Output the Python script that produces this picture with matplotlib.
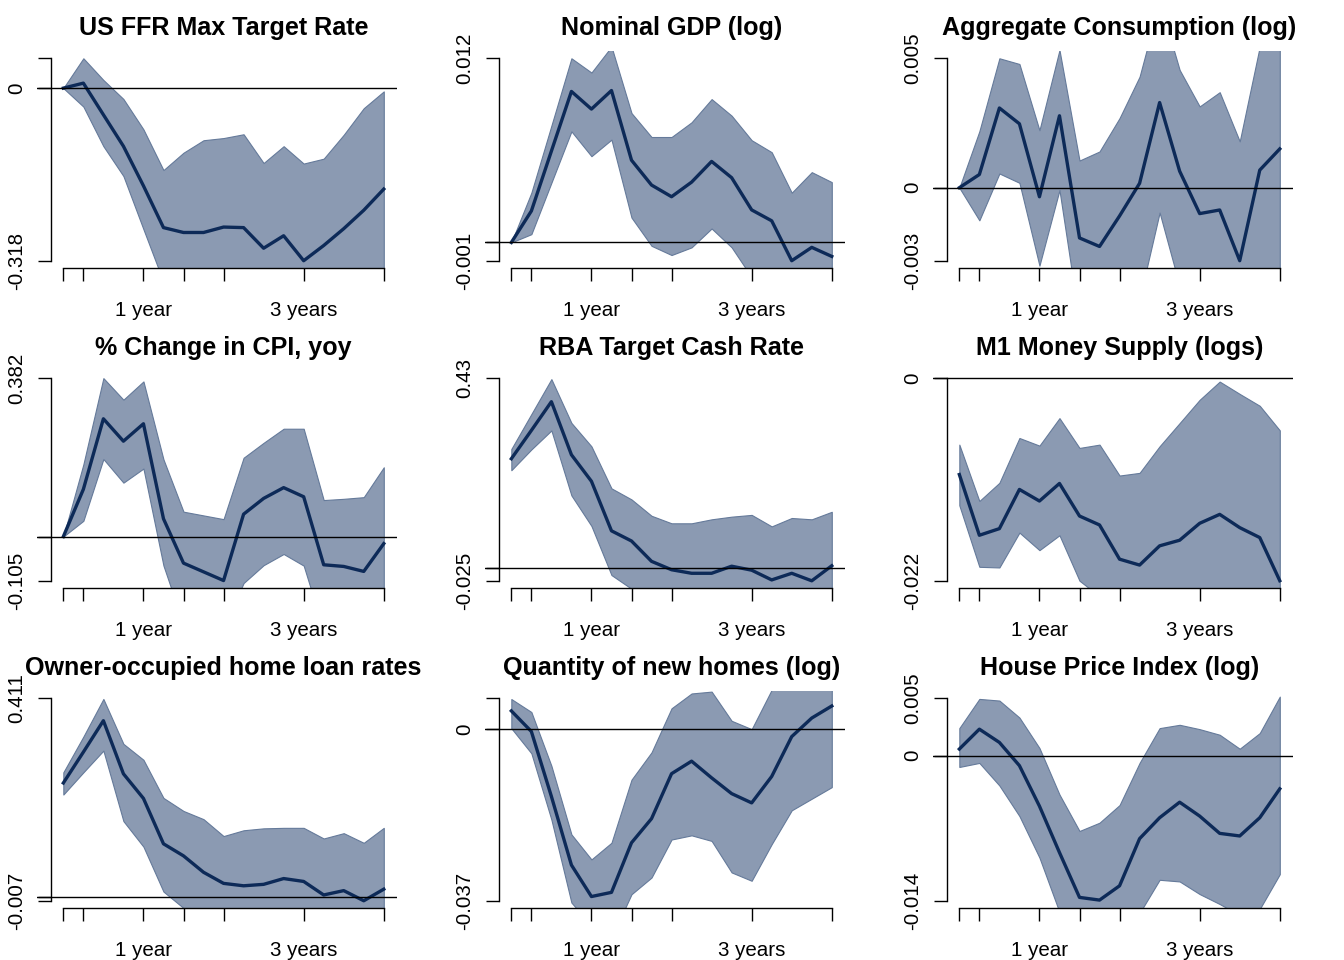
import numpy as np
import matplotlib
matplotlib.use("Agg")
import matplotlib.pyplot as plt
import matplotlib.transforms as mtransforms

plt.rcParams["font.family"] = ["Liberation Sans", "DejaVu Sans"]

# quarters after the shock
horizon = np.arange(17)
x_ticks = [0, 1, 4, 6, 8, 12, 16]
x_tick_labels = ["", "", "1 year", "", "", "3 years", ""]

titles = [
    "US FFR Max Target Rate", "Nominal GDP (log)", "Aggregate Consumption (log)",
    "% Change in CPI, yoy", "RBA Target Cash Rate", "M1 Money Supply (logs)",
    "Owner-occupied home loan rates", "Quantity of new homes (log)", "House Price Index (log)",
]

ffr_irf = [0, 0.0092, -0.049, -0.107, -0.180, -0.257, -0.266, -0.266, -0.256, -0.257,
           -0.295, -0.272, -0.318, -0.290, -0.259, -0.225, -0.186]
ffr_upper = [0, 0.055, 0.015, -0.020, -0.076, -0.151, -0.119, -0.096, -0.092, -0.085,
             -0.138, -0.107, -0.139, -0.130, -0.086, -0.037, -0.006]
ffr_lower = [0, -0.034, -0.107, -0.162, -0.260, -0.357, -0.40, -0.43, -0.45, -0.46,
             -0.48, -0.47, -0.50, -0.49, -0.47, -0.44, -0.41]
ffr_yticks = [0.055, 0, -0.318]
ffr_ylabels = ["", "0", "-0.318"]

gdp_irf = [0, 0.00205, 0.00595, 0.00984, 0.00869, 0.00990, 0.00536, 0.00374, 0.00298,
           0.00393, 0.00528, 0.00422, 0.00212, 0.00141, -0.00119, -0.00032, -0.00091]
gdp_upper = [0, 0.00324, 0.00761, 0.0120, 0.01107, 0.01276, 0.00843, 0.00687, 0.00687,
             0.00783, 0.00934, 0.00826, 0.00666, 0.00588, 0.00324, 0.00458, 0.00393]
gdp_lower = [0, 0.00054, 0.00389, 0.00724, 0.00562, 0.00670, 0.00162, -0.00022, -0.00082,
             -0.00032, 0.00091, -0.00032, -0.00227, -0.0035, -0.0055, -0.0050, -0.0055]
gdp_yticks = [0.012, 0, -0.00119]
gdp_ylabels = ["0.012", "", "-0.001"]

cons_irf = [0, 0.00051, 0.00308, 0.00247, -0.00035, 0.00278, -0.00194, -0.00227, -0.00109,
            0.00017, 0.00329, 0.00064, -0.00100, -0.00086, -0.00282, 0.00068, 0.00150]
cons_upper = [0, 0.00218, 0.0050, 0.00478, 0.00222, 0.00532, 0.00105, 0.00140, 0.00269,
              0.00429, 0.0072, 0.00455, 0.00314, 0.00369, 0.00179, 0.00545, 0.0062]
cons_lower = [0, -0.00126, 0.00055, 0.00019, -0.00301, -0.00009, -0.0052, -0.0058, -0.0055,
              -0.0043, -0.00096, -0.0038, -0.0050, -0.0055, -0.0060, -0.0052, -0.0050]
cons_yticks = [0.005, 0, -0.00282]
cons_ylabels = ["0.005", "0", "-0.003"]

cpi_irf = [0, 0.114, 0.284, 0.230, 0.272, 0.043, -0.064, -0.085, -0.106, 0.054,
           0.092, 0.118, 0.096, -0.068, -0.072, -0.084, -0.017]
cpi_upper = [0, 0.174, 0.382, 0.330, 0.374, 0.186, 0.060, 0.051, 0.042, 0.190,
             0.226, 0.260, 0.260, 0.088, 0.091, 0.095, 0.167]
cpi_lower = [0, 0.038, 0.187, 0.130, 0.164, -0.070, -0.212, -0.25, -0.22, -0.112,
             -0.069, -0.042, -0.070, -0.226, -0.25, -0.26, -0.24]
cpi_yticks = [0.3816, 0, -0.1064]
cpi_ylabels = ["0.382", "", "-0.105"]

rba_irf = [0.248, 0.312, 0.377, 0.257, 0.197, 0.085, 0.062, 0.016, -0.003, -0.011,
           -0.011, 0.005, -0.004, -0.026, -0.011, -0.028, 0.006]
rba_upper = [0.270, 0.349, 0.428, 0.329, 0.276, 0.181, 0.156, 0.119, 0.102, 0.102,
             0.111, 0.117, 0.121, 0.095, 0.114, 0.111, 0.128]
rba_lower = [0.222, 0.269, 0.312, 0.165, 0.096, -0.015, -0.046, -0.08, -0.095, -0.10,
             -0.098, -0.10, -0.105, -0.11, -0.10, -0.11, -0.105]
rba_yticks = [0.4299, 0, -0.0278]
rba_ylabels = ["0.43", "", "-0.025"]

m1_irf = [-0.01046, -0.01706, -0.01634, -0.01208, -0.01334, -0.01143, -0.01497, -0.01594,
          -0.01966, -0.02030, -0.01821, -0.01760, -0.01576, -0.01479, -0.01623, -0.01731, -0.0220]
m1_upper = [-0.00721, -0.01334, -0.01136, -0.00649, -0.00732, -0.00433, -0.00757, -0.00721,
            -0.01057, -0.01028, -0.00739, -0.00487, -0.00234, -0.00036, -0.00170, -0.00299, -0.00566]
m1_lower = [-0.01381, -0.02049, -0.02056, -0.01677, -0.01868, -0.01706, -0.0220, -0.0237,
            -0.0262, -0.0270, -0.0281, -0.0288, -0.0297, -0.0310, -0.0318, -0.0330, -0.0345]
m1_yticks = [0, -0.022]
m1_ylabels = ["0", "-0.022"]

loan_irf = [0.237, 0.301, 0.366, 0.256, 0.205, 0.111, 0.086, 0.052, 0.029, 0.024,
            0.027, 0.039, 0.033, 0.005, 0.014, -0.007, 0.017]
loan_upper = [0.259, 0.333, 0.411, 0.318, 0.285, 0.206, 0.179, 0.162, 0.127, 0.139,
              0.143, 0.144, 0.144, 0.122, 0.133, 0.113, 0.144]
loan_lower = [0.213, 0.259, 0.304, 0.158, 0.105, 0.012, -0.022, -0.05, -0.06, -0.065,
              -0.07, -0.068, -0.072, -0.075, -0.08, -0.078, -0.07]
loan_yticks = [0.4124, 0, -0.0069]
loan_ylabels = ["0.411", "", "-0.007"]

homes_irf = [0.00394, -0.0005, -0.0145, -0.0293, -0.0361, -0.0352, -0.0245, -0.0193, -0.0096,
             -0.0069, -0.0105, -0.0139, -0.0159, -0.0102, -0.0016, 0.0024, 0.0050]
homes_upper = [0.0065, 0.0037, -0.0079, -0.0227, -0.0281, -0.0245, -0.0109, -0.0050, 0.0045,
               0.0077, 0.0081, 0.0018, 0.0, 0.0085, 0.0110, 0.0125, 0.0120]
homes_lower = [0.0002, -0.0052, -0.0195, -0.0374, -0.0424, -0.0450, -0.0356, -0.0320, -0.0238,
               -0.0229, -0.0241, -0.0309, -0.0327, -0.0248, -0.0175, -0.0150, -0.0125]
homes_yticks = [0.00666, 0, -0.037]
homes_ylabels = ["", "0", "-0.037"]

hpi_irf = [0.00064, 0.00256, 0.00128, -0.00096, -0.00487, -0.00935, -0.01368, -0.01394, -0.01256,
           -0.00801, -0.00599, -0.00449, -0.00583, -0.00750, -0.00775, -0.00599, -0.00320]
hpi_upper = [0.00266, 0.00548, 0.00532, 0.00368, 0.00074, -0.00375, -0.00727, -0.00647, -0.00477,
             -0.00070, 0.00266, 0.00298, 0.00256, 0.00202, 0.00067, 0.00218, 0.00570]
hpi_lower = [-0.00109, -0.00070, -0.00288, -0.00583, -0.00984, -0.0151, -0.0175, -0.0190, -0.0180,
             -0.0152, -0.01198, -0.01214, -0.01336, -0.01432, -0.0154, -0.0148, -0.01144]
hpi_yticks = [0.00554, 0, -0.014]
hpi_ylabels = ["0.005", "0", "-0.014"]

panels = [
    (ffr_irf, ffr_lower, ffr_upper, ffr_yticks, ffr_ylabels),
    (gdp_irf, gdp_lower, gdp_upper, gdp_yticks, gdp_ylabels),
    (cons_irf, cons_lower, cons_upper, cons_yticks, cons_ylabels),
    (cpi_irf, cpi_lower, cpi_upper, cpi_yticks, cpi_ylabels),
    (rba_irf, rba_lower, rba_upper, rba_yticks, rba_ylabels),
    (m1_irf, m1_lower, m1_upper, m1_yticks, m1_ylabels),
    (loan_irf, loan_lower, loan_upper, loan_yticks, loan_ylabels),
    (homes_irf, homes_lower, homes_upper, homes_yticks, homes_ylabels),
    (hpi_irf, hpi_lower, hpi_upper, hpi_yticks, hpi_ylabels),
]

W, H = 1344, 960
band_color = "#8b9ab2"
edge_color = "#657a9a"
line_color = "#0d2a58"
tick_len = 9.6


def draw_panel(fig, idx, title, irf, lower, upper, yticks, ylabels):
    row, col = divmod(idx, 3)
    left = 448 * col + 37.3
    right = 448 * col + 397.0
    top = 320 * row + 50.7
    bottom = 320 * row + 268.3
    ax = fig.add_axes([left / W, 1 - bottom / H, (right - left) / W, (bottom - top) / H])

    ax.fill_between(horizon, lower, upper, facecolor=band_color, edgecolor=edge_color,
                    linewidth=0.8, zorder=1)
    ax.plot(horizon, irf, color=line_color, linewidth=2.4, zorder=2)
    ax.axhline(0, color="black", linewidth=1.0, zorder=3)

    hi, lo = max(yticks), min(yticks)
    ext = 0.0375 * (hi - lo)
    ax.set_ylim(lo - ext, hi + ext)
    ax.set_xlim(-1.30, 16.66)

    for side in ("top", "right"):
        ax.spines[side].set_visible(False)
    ax.spines["left"].set_position(("data", -0.63))
    ax.spines["left"].set_bounds(lo, hi)
    ax.spines["bottom"].set_bounds(0, 16)
    for side in ("left", "bottom"):
        ax.spines[side].set_linewidth(1.0)

    ax.set_xticks(x_ticks)
    ax.set_xticklabels(x_tick_labels, fontsize=14.8)
    ax.set_yticks(yticks)
    ax.set_yticklabels(ylabels, fontsize=14.8, rotation=90, va="center")
    ax.tick_params(axis="both", direction="out", length=tick_len, width=1.0)
    ax.tick_params(axis="x", pad=14)
    ax.tick_params(axis="y", pad=8)

    trans = mtransforms.blended_transform_factory(ax.transData, ax.transAxes)
    ax.text(8, 1.072, title, transform=trans, ha="center", va="baseline",
            fontsize=18.1, fontweight="bold")


fig = plt.figure(figsize=(W / 100, H / 100), dpi=100)
for i, (title, p) in enumerate(zip(titles, panels)):
    draw_panel(fig, i, title, *p)

fig.savefig("out.png", dpi=100)
